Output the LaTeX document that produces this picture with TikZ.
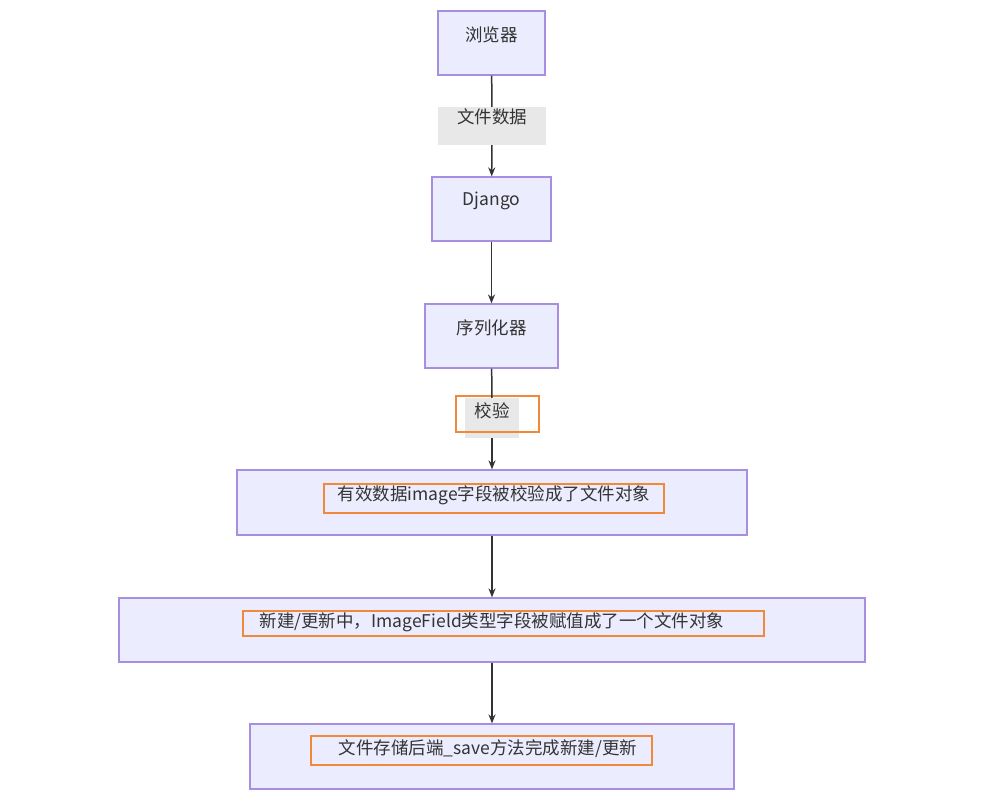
\documentclass[tikz,border=0pt]{standalone}
\usepackage{fontspec}
\setmainfont{Noto Sans CJK SC}
\usetikzlibrary{arrows.meta}
\definecolor{boxfill}{HTML}{ECECFF}
\definecolor{boxline}{HTML}{A88EE0}
\definecolor{lblfill}{HTML}{E8E8E8}
\definecolor{orng}{HTML}{F08A3A}
\begin{document}
\begin{tikzpicture}[x=1pt,y=-1pt,
  box/.style={draw=boxline,fill=boxfill,line width=1.2pt,inner sep=0pt},
  lbl/.style={fill=lblfill,inner sep=0pt},
  txt/.style={font=\fontsize{17.5}{20}\selectfont,text=black!80,inner sep=0pt},
  hl/.style={draw=orng,line width=2.2pt},
  edge/.style={draw=black!80,line width=1.5pt},
  arr/.style={edge,-{Stealth[length=9pt,width=7pt]}}]
\useasboundingbox (0,0) rectangle (988,799);
\node[box,minimum width=107,minimum height=64] (a) at (491.5,43) {};
\node[txt] at (491.5,35) {浏览器};
\node[lbl,minimum width=108,minimum height=38] (l1) at (492,126) {};
\node[txt] at (492,117) {文件数据};
\node[box,minimum width=119,minimum height=64] (b) at (491.5,209) {};
\node[txt] at (491.5,201) {Django};
\node[box,minimum width=133,minimum height=64] (c) at (491.5,336) {};
\node[txt] at (491.5,328) {序列化器};
\node[lbl,minimum width=54,minimum height=40] (l2) at (492,418) {};
\node[txt] at (492,411) {校验};
\draw[hl] (456,396) rectangle (539,432);
\node[box,minimum width=510,minimum height=65] (d) at (492,502.5) {};
\node[txt] at (494,495) {有效数据image字段被校验成了文件对象};
\draw[hl] (324,484) rectangle (664,513);
\node[box,minimum width=746,minimum height=64] (e) at (492,630) {};
\node[txt] at (492,622) {新建/更新中，ImageField类型字段被赋值成了一个文件对象};
\draw[hl] (243,611) rectangle (764,636);
\node[box,minimum width=484,minimum height=65] (f) at (492,756.5) {};
\node[txt] at (488,749) {文件存储后端\_save方法完成新建/更新};
\draw[hl] (311,736) rectangle (652,765);
\draw[edge] (a) -- (l1);
\draw[arr] (l1) -- (b);
\draw[arr] (b) -- (c);
\draw[edge] (c) -- (l2);
\draw[arr] (l2) -- (d);
\draw[arr] (d) -- (e);
\draw[arr] (e) -- (f);
\end{tikzpicture}
\end{document}
